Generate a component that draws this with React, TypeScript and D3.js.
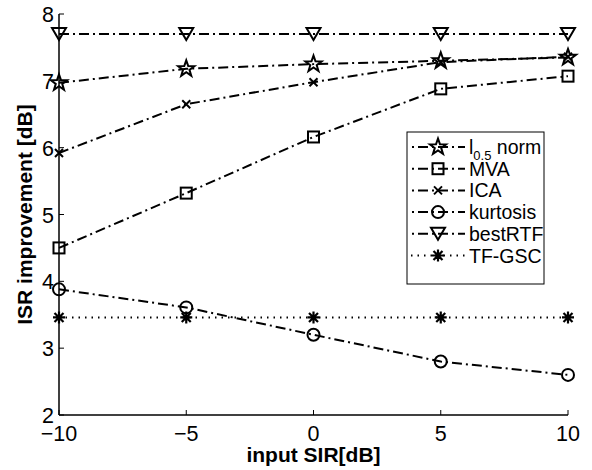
import React from 'react';
import * as d3 from 'd3';

const sir = [-10, -5, 0, 5, 10];
const l05Norm = [6.97, 7.18, 7.25, 7.3, 7.35];
const mva = [4.5, 5.32, 6.16, 6.88, 7.07];
const ica = [5.92, 6.65, 6.98, 7.28, 7.36];
const kurtosis = [3.88, 3.61, 3.2, 2.8, 2.6];
const bestRTF = [7.7, 7.7, 7.7, 7.7, 7.7];
const tfGsc = [3.46, 3.46, 3.46, 3.46, 3.46];
const xTicks = [-10, -5, 0, 5, 10];
const yTicks = [2, 3, 4, 5, 6, 7, 8];

const dashDot = '10,4,2,4';
const series = [
  { name: 'l05', values: l05Norm, marker: 'star', dash: dashDot },
  { name: 'MVA', values: mva, marker: 'square', dash: dashDot },
  { name: 'ICA', values: ica, marker: 'x', dash: dashDot },
  { name: 'kurtosis', values: kurtosis, marker: 'circle', dash: dashDot },
  { name: 'bestRTF', values: bestRTF, marker: 'tri', dash: dashDot },
  { name: 'TF-GSC', values: tfGsc, marker: 'asterisk', dash: '1.5,5' },
];

const font = '"Liberation Sans", Arial, Helvetica, sans-serif';

function starPath(r: number) {
  const pts: string[] = [];
  for (let i = 0; i < 10; i++) {
    const rad = i % 2 === 0 ? r : r * 0.4;
    const a = -Math.PI / 2 + (i * Math.PI) / 5;
    pts.push(`${(rad * Math.cos(a)).toFixed(2)},${(rad * Math.sin(a)).toFixed(2)}`);
  }
  return 'M' + pts.join('L') + 'Z';
}

const Marker = ({ kind, x, y }: { kind: string; x: number; y: number }) => {
  const common = { fill: 'none', stroke: '#000', strokeWidth: 2 };
  const t = `translate(${x},${y})`;
  if (kind === 'star') return <path transform={t} d={starPath(8.5)} {...common} />;
  if (kind === 'square') return <rect transform={t} x={-5.5} y={-5.5} width={11} height={11} {...common} />;
  if (kind === 'x')
    return <path transform={t} d="M-4,-4L4,4M-4,4L4,-4" {...common} />;
  if (kind === 'circle') return <circle transform={t} r={6} {...common} />;
  if (kind === 'tri') return <path transform={t} d="M-7,-6L7,-6L0,6Z" {...common} />;
  if (kind === 'asterisk')
    return (
      <path
        transform={t}
        d="M0,-6L0,6M-6,0L6,0M-4.5,-4.5L4.5,4.5M-4.5,4.5L4.5,-4.5"
        {...common}
        strokeWidth={2.2}
      />
    );
  return null;
};

const App = () => {
  const W = 592;
  const H = 470;
  const x = d3.scaleLinear().domain([-10, 10]).range([59, 568]);
  const y = d3.scaleLinear().domain([2, 8]).range([415, 14]);
  const line = d3
    .line<number>()
    .x((_, i) => x(sir[i]))
    .y((d) => y(d));

  const legX = 407;
  const legY = 132;
  const rowH = 21.7;

  return (
    <svg width={W} height={H} style={{ position: 'absolute', left: 0, top: 0 }} fontFamily={font}>
      <rect width={W} height={H} fill="#fff" />
      {series.map((s) => (
        <g key={s.name}>
          <path d={line(s.values) || ''} fill="none" stroke="#000" strokeWidth={2} strokeDasharray={s.dash} />
          {s.values.map((v, i) => (
            <Marker key={i} kind={s.marker} x={x(sir[i])} y={y(v)} />
          ))}
        </g>
      ))}
      {/* axes */}
      <line x1={x(-10)} x2={x(10)} y1={y(2)} y2={y(2)} stroke="#000" strokeWidth={1.5} />
      <line x1={x(-10)} x2={x(-10)} y1={y(2)} y2={y(8)} stroke="#000" strokeWidth={1.5} />
      {xTicks.map((t) => (
        <g key={t}>
          <line x1={x(t)} x2={x(t)} y1={y(2)} y2={y(2) - 5} stroke="#000" />
          <text x={x(t)} y={y(2) + 26} textAnchor="middle" fontSize={21.5}>
            {t < 0 ? '\u2212' + Math.abs(t) : t}
          </text>
        </g>
      ))}
      {yTicks.map((t) => (
        <g key={t}>
          <line x1={x(-10)} x2={x(-10) + 5} y1={y(t)} y2={y(t)} stroke="#000" />
          <text x={x(-10) - 5} y={y(t) + 8} textAnchor="end" fontSize={21.5}>
            {t}
          </text>
        </g>
      ))}
      <text x={x(0)} y={462} textAnchor="middle" fontSize={21} fontWeight="bold">
        input SIR[dB]
      </text>
      <text
        transform={`translate(32,${(y(2) + y(8)) / 2}) rotate(-90)`}
        textAnchor="middle"
        fontSize={21}
        fontWeight="bold"
      >
        ISR improvement [dB]
      </text>
      {/* legend */}
      <rect x={legX} y={legY} width={137} height={152} fill="#fff" stroke="#000" strokeWidth={1} />
      {series.map((s, i) => {
        const cy = legY + 15 + i * rowH;
        return (
          <g key={s.name}>
            <line x1={legX + 3} x2={legX + 58} y1={cy} y2={cy} stroke="#000" strokeWidth={2} strokeDasharray={s.dash} strokeDashoffset={12} />
            <Marker kind={s.marker} x={legX + 31} y={cy} />
            <text x={legX + 62} y={cy + 7} fontSize={19.5}>
              {s.name === 'l05' ? (
                <>
                  l<tspan fontSize={13} dy={6}>0.5</tspan>
                  <tspan dy={-6}> norm</tspan>
                </>
              ) : (
                s.name
              )}
            </text>
          </g>
        );
      })}
    </svg>
  );
};

export default App;
